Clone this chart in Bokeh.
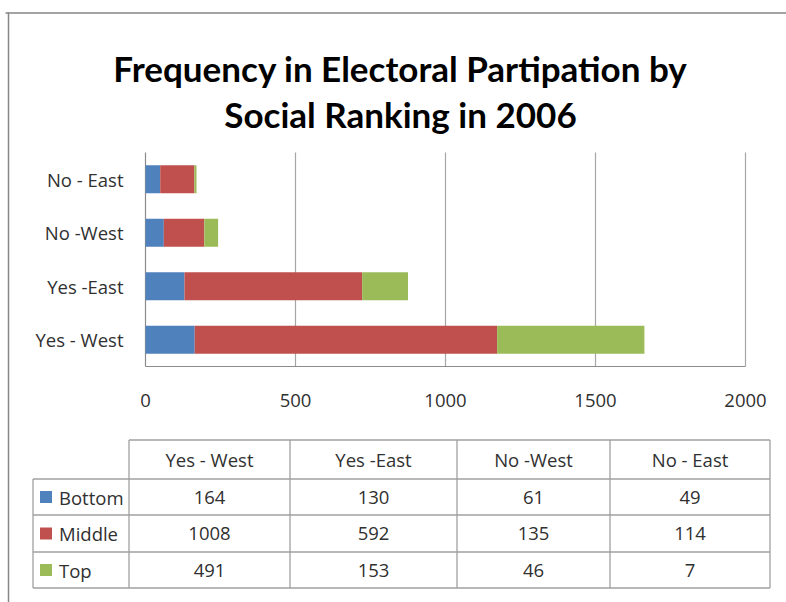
from bokeh.plotting import figure
from bokeh.models import Range1d, ColumnDataSource
from bokeh.core.properties import value
from bokeh.embed import file_html
from bokeh.resources import INLINE

# ---------------- data ----------------
title_lines = ["Frequency in Electoral Partipation by", "Social Ranking in 2006"]
categories = ["Yes - West", "Yes -East", "No -West", "No - East"]
series_names = ["Bottom", "Middle", "Top"]
bottom_vals = [164, 130, 61, 49]
middle_vals = [1008, 592, 135, 114]
top_vals = [491, 153, 46, 7]
series_colors = ["#4F81BD", "#C0504D", "#9BBB59"]
x_ticks = [0, 500, 1000, 1500, 2000]
x_max = 2000

# ---------------- layout (canvas px) ----------------
W, H = 786, 602
PL, PR, PT, PB = 145, 745, 152, 366          # plot area
LABEL_FONT = "Open Sans"
TEXT_COLOR = "#303030"
GRID_COLOR = "#a6a6a6"
LINE_COLOR = "#a0a0a0"

p = figure(width=W, height=H, x_range=Range1d(0, W), y_range=Range1d(H, 0),
           output_backend="svg", toolbar_location=None, min_border=0,
           x_axis_location=None, y_axis_location=None,
           outline_line_color=None, background_fill_color="white",
           border_fill_color="white")
p.grid.visible = False

# scales for the bar chart
sx = (PR - PL) / x_max
n = len(categories)
rowh = (PB - PT) / n
p.extra_x_ranges = {"val": Range1d(-PL / sx, (W - PL) / sx)}
p.extra_y_ranges = {"cat": Range1d(-(H - PB) / rowh, PB / rowh)}

# outer chart-area border
p.segment(x0=[5, 8], y0=[12.5, 12], x1=[W, 8], y1=[12.5, H],
          line_color="#868686", line_width=1.5)

# title
p.text(x=[(PL + PR) / 2 - 45] * 2, y=[67, 113], text=title_lines,
       text_font=value("Lato"), text_font_style="bold", text_font_size="35px",
       text_align="center", text_baseline="alphabetic", text_color="#000000")

# gridlines (at tick values) and axis lines
grid_x = x_ticks[1:]
p.segment(x0=grid_x, y0=[0] * len(grid_x), x1=grid_x, y1=[n] * len(grid_x),
          line_color=GRID_COLOR, line_width=1.2,
          x_range_name="val", y_range_name="cat")
p.segment(x0=[0, 0], y0=[0, 0], x1=[0, x_max], y1=[n, 0],
          line_color="#8c8c8c", line_width=1.2,
          x_range_name="val", y_range_name="cat")

# stacked bars
ypos = [i + 0.5 for i in range(n)]
left = [0] * n
for name, vals, col in zip(series_names, [bottom_vals, middle_vals, top_vals], series_colors):
    right = [a + b for a, b in zip(left, vals)]
    src = ColumnDataSource(dict(y=ypos, left=left, right=right))
    p.hbar(y="y", left="left", right="right", height=0.52, source=src,
           fill_color=col, line_color=None,
           x_range_name="val", y_range_name="cat")
    left = right

# category labels
p.text(x=[PL - 22] * n, y=ypos, text=categories, x_range_name="default",
       y_range_name="cat", text_font=value(LABEL_FONT), text_font_size="18.5px",
       text_align="right", text_baseline="middle", text_color=TEXT_COLOR)

# x tick labels
p.text(x=x_ticks, y=[400] * len(x_ticks), text=[str(t) for t in x_ticks],
       x_range_name="val", text_font=value(LABEL_FONT), text_font_size="18.5px",
       text_align="center", text_baseline="middle", text_color=TEXT_COLOR)

# ---------------- data table ----------------
col_edges = [128.5, 289.5, 456.5, 609.5, 769.5]
row_edges = [439.5, 478.5, 514.5, 551.5, 587.5]
leg_left = 32.5

hx0, hy0, hx1, hy1 = [], [], [], []
hx0.append(col_edges[0]); hy0.append(row_edges[0]); hx1.append(col_edges[-1]); hy1.append(row_edges[0])
for r in row_edges[1:]:
    hx0.append(leg_left); hy0.append(r); hx1.append(col_edges[-1]); hy1.append(r)
hx0.append(leg_left); hy0.append(row_edges[1]); hx1.append(leg_left); hy1.append(row_edges[-1])
for c in col_edges:
    hx0.append(c); hy0.append(row_edges[0]); hx1.append(c); hy1.append(row_edges[-1])
p.segment(x0=hx0, y0=hy0, x1=hx1, y1=hy1, line_color=LINE_COLOR, line_width=1.3)

col_centers = [(a + b) / 2 for a, b in zip(col_edges[:-1], col_edges[1:])]
row_centers = [(a + b) / 2 for a, b in zip(row_edges[:-1], row_edges[1:])]

# header
p.text(x=col_centers, y=[row_centers[0]] * n, text=categories,
       text_font=value(LABEL_FONT), text_font_size="18.5px",
       text_align="center", text_baseline="middle", text_color=TEXT_COLOR)

# values
tx, ty, tt = [], [], []
for ri, vals in enumerate([bottom_vals, middle_vals, top_vals]):
    for ci, v in enumerate(vals):
        tx.append(col_centers[ci]); ty.append(row_centers[ri + 1]); tt.append(str(v))
p.text(x=tx, y=ty, text=tt, text_font=value(LABEL_FONT), text_font_size="18.5px",
       text_align="center", text_baseline="middle", text_color=TEXT_COLOR)

# legend keys + series names
p.rect(x=[leg_left + 13] * 3, y=row_centers[1:], width=12, height=12,
       fill_color=series_colors, line_color=None)
p.text(x=[leg_left + 26] * 3, y=row_centers[1:], text=series_names,
       text_font=value(LABEL_FONT), text_font_size="18.5px",
       text_align="left", text_baseline="middle", text_color=TEXT_COLOR)

open("out.html", "w").write(file_html(p, INLINE))
